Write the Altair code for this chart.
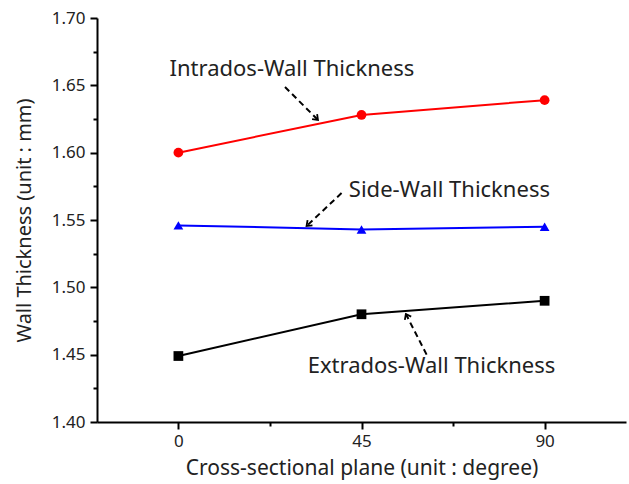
import math
import altair as alt
import pandas as pd

# ---- data ----
planes = [0, 45, 90]
intrados = [1.600, 1.628, 1.639]
side = [1.546, 1.543, 1.545]
extrados = [1.449, 1.480, 1.490]
series_names = ["Intrados-Wall Thickness", "Side-Wall Thickness", "Extrados-Wall Thickness"]
series_colors = ["#ff0000", "#0000ff", "#000000"]
series_shapes = ["circle", "triangle-up", "square"]

# annotation label positions (data units)
label_x = [27.9, 66.6, 62.2]
label_y = [1.6625, 1.5725, 1.4415]
# arrow start / end (data units)
arrow_x1 = [26.2, 40.1, 61.0]
arrow_y1 = [1.6488, 1.5700, 1.4500]
arrow_x2 = [34.3, 31.5, 55.9]
arrow_y2 = [1.6243, 1.5455, 1.4802]

x_major = [0, 45, 90]
x_minor = [22.5, 67.5]
y_major = [1.40, 1.45, 1.50, 1.55, 1.60, 1.65, 1.70]
y_minor = [1.425, 1.475, 1.525, 1.575, 1.625, 1.675]

X_DOMAIN = [-20, 110]
Y_DOMAIN = [1.40, 1.70]
W, H = 529, 404
FONT = "Noto Sans"

rows = []
for name, vals in zip(series_names, [intrados, side, extrados]):
    for p, v in zip(planes, vals):
        rows.append({"plane": p, "thickness": v, "series": name})
df = pd.DataFrame(rows)

ann = pd.DataFrame({
    "label": series_names,
    "lx": label_x, "ly": label_y,
    "x1": arrow_x1, "y1": arrow_y1, "x2": arrow_x2, "y2": arrow_y2,
})
px_x = W / (X_DOMAIN[1] - X_DOMAIN[0])
px_y = H / (Y_DOMAIN[1] - Y_DOMAIN[0])
ann["angle"] = [
    math.degrees(math.atan2(-(b2 - b1) * px_y, (a2 - a1) * px_x)) % 360
    for a1, b1, a2, b2 in zip(arrow_x1, arrow_y1, arrow_x2, arrow_y2)
]

xs = alt.Scale(domain=X_DOMAIN, nice=False, zero=False)
ys = alt.Scale(domain=Y_DOMAIN, nice=False, zero=False)

x_axis = alt.Axis(values=x_major, title="Cross-sectional plane (unit : degree)", grid=False,
                  orient="bottom", tickSize=7, tickWidth=2, tickColor="#000", domainColor="#000",
                  domainWidth=2, labelFontSize=17, labelFont=FONT, labelColor="#222",
                  labelPadding=4, titleFont=FONT, titleFontSize=21, titleFontWeight="normal",
                  titleColor="#222", titlePadding=8)
y_axis = alt.Axis(values=y_major, format=".2f", title="Wall Thickness (unit : mm)", grid=False,
                  orient="left", tickSize=7, tickWidth=2, tickColor="#000", domainColor="#000",
                  domainWidth=2, labelFontSize=17, labelFont=FONT, labelColor="#222",
                  labelPadding=5, titleFont=FONT, titleFontSize=20, titleFontWeight="normal",
                  titleColor="#222", titlePadding=17)

color = alt.Color("series:N", scale=alt.Scale(domain=series_names, range=series_colors), legend=None)
shape = alt.Shape("series:N", scale=alt.Scale(domain=series_names, range=series_shapes), legend=None)

lines = alt.Chart(df).mark_line(strokeWidth=2).encode(
    x=alt.X("plane:Q", scale=xs, axis=x_axis),
    y=alt.Y("thickness:Q", scale=ys, axis=y_axis),
    color=color,
)

minor = alt.Chart(df).mark_point(opacity=0).encode(
    x=alt.X("plane:Q", scale=xs, axis=alt.Axis(values=x_minor, labels=False, domain=False, title=None,
                                                 grid=False, orient="bottom", tickSize=4, tickWidth=2,
                                                 tickColor="#000")),
    y=alt.Y("thickness:Q", scale=ys, axis=alt.Axis(values=y_minor, labels=False, domain=False, title=None,
                                                     grid=False, orient="left", tickSize=4, tickWidth=2,
                                                     tickColor="#000")),
)

points = alt.Chart(df).mark_point(filled=True, opacity=1, size=95).encode(
    x=alt.X("plane:Q", scale=xs, axis=None),
    y=alt.Y("thickness:Q", scale=ys, axis=None),
    color=color,
    shape=shape,
)

arrows = alt.Chart(ann).mark_rule(strokeWidth=2, strokeDash=[6, 4], color="#000").encode(
    x=alt.X("x1:Q", scale=xs, axis=None), y=alt.Y("y1:Q", scale=ys, axis=None), x2="x2:Q", y2="y2:Q",
)
heads = alt.Chart(ann).mark_point(shape="M-1,-0.75L0,0L-1,0.75", filled=False, size=90,
                                  strokeWidth=1.8, color="#000", opacity=1).encode(
    x=alt.X("x2:Q", scale=xs, axis=None), y=alt.Y("y2:Q", scale=ys, axis=None),
    angle=alt.Angle("angle:Q", scale=None),
)
labels = alt.Chart(ann).mark_text(font=FONT, fontSize=22, color="#222").encode(
    x=alt.X("lx:Q", scale=xs, axis=None), y=alt.Y("ly:Q", scale=ys, axis=None), text="label:N",
)

chart = alt.layer(lines, minor, points, arrows, heads, labels).resolve_axis(
    x="independent", y="independent"
).properties(
    width=W, height=H,
    autosize=alt.AutoSizeParams(type="none"),
    padding={"left": 97, "top": 18, "right": 3, "bottom": 62},
    background="white",
).configure_view(stroke=None)

chart.save("out.html", embed_options={"renderer": "svg", "actions": False})
